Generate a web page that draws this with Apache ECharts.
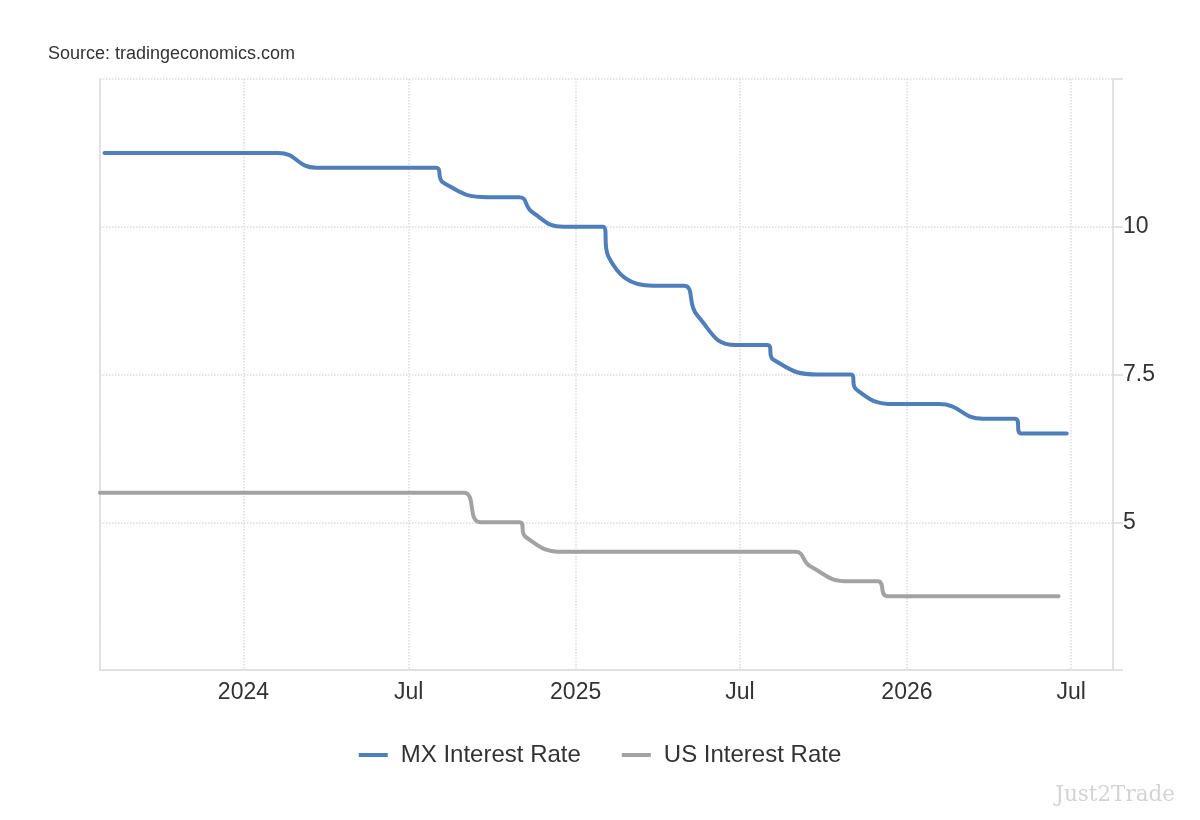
<!DOCTYPE html>
<html><head><meta charset="utf-8">
<script src="https://cdn.jsdelivr.net/npm/echarts@6/dist/echarts.min.js"></script>
<style>html,body{margin:0;padding:0;background:#fff}#c{width:1200px;height:820px}</style>
</head><body><div id="c"></div>
<script>
const seriesNames = ['MX Interest Rate', 'US Interest Rate'];

const mxDates = ['2023-08-01','2023-08-10','2023-09-28','2023-11-09','2023-12-14','2024-02-08',
  '2024-03-21','2024-05-16','2024-06-27','2024-07-31','2024-08-08','2024-09-26','2024-10-31',
  '2024-11-14','2024-12-19','2025-01-31','2025-02-06','2025-03-27','2025-04-30','2025-05-15',
  '2025-06-26','2025-07-31','2025-08-07','2025-09-25','2025-10-31','2025-11-06','2025-12-18',
  '2026-02-05','2026-03-26','2026-04-30','2026-05-07','2026-06-26'];
const mxValues = [11.25,11.25,11.25,11.25,11.25,11.25,
  11.0,11.0,11.0,11.0,10.75,10.5,10.5,
  10.25,10.0,10.0,9.5,9.0,9.0,8.5,
  8.0,8.0,7.75,7.5,7.5,7.25,7.0,
  7.0,6.75,6.75,6.5,6.5];

const usDates = ['2023-07-27','2023-09-20','2023-11-01','2023-12-13','2024-01-31','2024-03-20',
  '2024-05-01','2024-06-12','2024-07-31','2024-08-31','2024-09-18','2024-10-31','2024-11-07',
  '2024-12-18','2025-01-29','2025-03-19','2025-05-07','2025-06-18','2025-07-30','2025-08-31',
  '2025-09-17','2025-10-29','2025-11-30','2025-12-10','2026-01-28','2026-03-18','2026-04-29',
  '2026-06-17'];
const usValues = [5.5,5.5,5.5,5.5,5.5,5.5,
  5.5,5.5,5.5,5.5,5.0,5.0,4.75,
  4.5,4.5,4.5,4.5,4.5,4.5,4.5,
  4.25,4.0,4.0,3.75,3.75,3.75,3.75,
  3.75];

const xTickDates = ['2024-01-01','2024-07-01','2025-01-01','2025-07-01','2026-01-01','2026-07-01'];
const xTickLabels = ['2024','Jul','2025','Jul','2026','Jul'];
const yTickValues = [5, 7.5, 10];

const pad = n => (n < 10 ? '0' : '') + n;
const dayKey = v => { const d = new Date(v); return d.getFullYear() + '-' + pad(d.getMonth() + 1) + '-' + pad(d.getDate()); };

const chart = echarts.init(document.getElementById('c'));
const gridCol = '#dcdcdc';
chart.setOption({
  animation: false,
  textStyle: { fontFamily: 'Liberation Sans, Arial, sans-serif' },
  title: [
    { text: 'Source: tradingeconomics.com', left: 43, top: 40,
      textStyle: { fontSize: 18, fontWeight: 'normal', color: '#333', fontFamily: 'Liberation Sans, Arial, sans-serif' } },
    { text: 'Just2Trade', right: 20, top: 779,
      textStyle: { fontSize: 21.5, fontWeight: 'normal', color: '#d4d4d4', fontFamily: 'DejaVu Serif, serif' } }
  ],
  legend: {
    bottom: 48, left: 'center', itemGap: 41, itemWidth: 29, itemHeight: 4,
    icon: 'rect',
    textStyle: { fontSize: 24, color: '#333', padding: [0, 0, 0, 8] },
    data: seriesNames
  },
  grid: { left: 100, right: 87, top: 79, bottom: 150, containLabel: false },
  xAxis: {
    type: 'time', min: '2023-07-27', max: '2026-08-16',
    minInterval: 182.5 * 864e5, maxInterval: 182.5 * 864e5,
    axisLine: { show: true, lineStyle: { color: gridCol, width: 1.5 } },
    axisTick: { show: false },
    splitLine: { show: true, lineStyle: { type: 'dotted', color: gridCol, width: 1.5 } },
    axisLabel: {
      fontSize: 23, color: '#333', margin: 11, showMinLabel: false, showMaxLabel: false,
      formatter: v => { const i = xTickDates.indexOf(dayKey(v)); return i >= 0 ? xTickLabels[i] : ''; }
    }
  },
  yAxis: [
    {
      type: 'value', position: 'right', min: 2.5, max: 12.5, interval: 2.5,
      axisLine: { show: true, lineStyle: { color: gridCol, width: 1.5 } },
      axisTick: { show: true, length: 10, lineStyle: { color: gridCol, width: 1.5 } },
      splitLine: { show: true, lineStyle: { type: 'dotted', color: gridCol, width: 1.5 } },
      axisLabel: { fontSize: 23, color: '#333', margin: 10,
        formatter: v => (yTickValues.indexOf(v) >= 0 ? String(v) : '') }
    },
    {
      type: 'value', position: 'left', min: 2.5, max: 12.5, interval: 2.5,
      axisLine: { show: true, lineStyle: { color: gridCol, width: 1.5 } },
      axisTick: { show: false }, axisLabel: { show: false }, splitLine: { show: false }
    }
  ],
  series: [
    { name: seriesNames[0], type: 'line', smooth: 0.5, symbol: 'none',
      color: '#4f7fba', lineStyle: { width: 4, color: '#4f7fba', cap: 'round', join: 'round' },
      data: mxDates.map((d, i) => [d, mxValues[i]]) },
    { name: seriesNames[1], type: 'line', smooth: 0.5, symbol: 'none',
      color: '#a2a2a2', lineStyle: { width: 4, color: '#a2a2a2', cap: 'round', join: 'round' },
      data: usDates.map((d, i) => [d, usValues[i]]) }
  ]
});
</script></body></html>
